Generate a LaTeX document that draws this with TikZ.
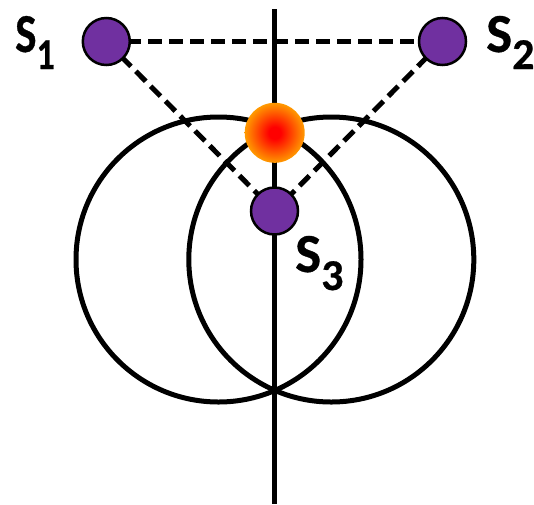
\documentclass[tikz,border=0pt]{standalone}
\usepackage{fontspec}
\setmainfont{Carlito}
\usetikzlibrary{backgrounds}
\definecolor{spurple}{HTML}{7030A0}
\definecolor{glowout}{HTML}{FF9A00}
\pgfdeclareradialshading{glowshade}{\pgfpoint{0bp}{0bp}}{color(0bp)=(red); color(5bp)=(red); color(25bp)=(glowout); color(50bp)=(glowout)}
\tikzset{
  ring/.style={circle, draw=black, line width=5pt, minimum size=285pt, inner sep=0pt},
  sensor/.style={circle, draw=black, fill=spurple, line width=2.5pt, minimum size=47pt, inner sep=0pt},
  glow/.style={circle, shading=glowshade, minimum size=60pt, inner sep=0pt},
  axisline/.style={line width=5.5pt},
  link/.style={line width=5pt, dash pattern=on 14pt off 7pt},
  lab/.style={font=\fontsize{55}{55}\selectfont\bfseries\addfontfeature{FakeBold=0.6}, inner sep=0pt, anchor=base west},
}
\newcommand{\subdig}[2]{\raisebox{-#1pt}{\fontsize{44}{44}\selectfont\addfontfeature{FakeBold=0.6} #2}}
\begin{document}
\begin{tikzpicture}[x=1pt,y=-1pt]
\useasboundingbox (0,0) rectangle (534,504);
\node[ring] (c1) at (218.5,259.5) {};
\node[ring] (c2) at (331.3,259.5) {};
\coordinate (vt) at (274.5,9);
\coordinate (vb) at (274.5,504);
\draw[axisline] (vt) -- (vb);
\node[glow] (g) at (274.7,132.8) {};
\node[sensor] (s1) at (106.3,41.5) {};
\node[sensor] (s2) at (442.5,41.5) {};
\node[sensor] (s3) at (274.5,211) {};
\begin{pgfonlayer}{background}
\draw[link] (s1.center) -- (s2.center);
\draw[link] (s1.center) -- (s3.center);
\draw[link] (s2.center) -- (s3.center);
\end{pgfonlayer}
\node[lab] (l1) at (15,52) {\scalebox{0.82}[1]{S\subdig{17}{1}}};
\node[lab] (l2) at (486,52) {S\subdig{17}{2}};
\node[lab] (l3) at (295,272) {S\subdig{18}{3}};
\end{tikzpicture}
\end{document}
